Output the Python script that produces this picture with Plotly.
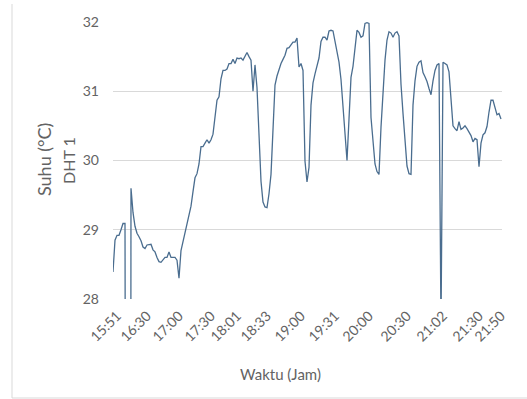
import plotly.graph_objects as go

# Temperature readings (DHT 1), one per sample; values below 28 are sensor read errors
suhu = [
    28.39, 28.85, 28.92, 28.92, 29.0, 29.09, 29.09, 0, 0, 29.6,
    29.25, 29.05, 28.95, 28.9, 28.84, 28.75, 28.73, 28.78, 28.78, 28.79,
    28.71, 28.68, 28.6, 28.54, 28.53, 28.56, 28.6, 28.6, 28.68, 28.6,
    28.6, 28.6, 28.56, 28.3, 28.7, 28.83, 28.95, 29.1, 29.22, 29.34,
    29.55, 29.75, 29.81, 29.95, 30.2, 30.2, 30.25, 30.3, 30.25, 30.3,
    30.38, 30.6, 30.87, 30.92, 31.18, 31.3, 31.3, 31.32, 31.4, 31.4,
    31.46, 31.4, 31.48, 31.47, 31.48, 31.45, 31.5, 31.56, 31.5, 31.45,
    31.0, 31.38, 31.05, 30.4, 29.7, 29.4, 29.33, 29.32, 29.52, 29.8,
    30.55, 31.09, 31.22, 31.32, 31.4, 31.46, 31.52, 31.62, 31.63, 31.67,
    31.71, 31.71, 31.77, 31.35, 31.4, 31.3, 29.99, 29.69, 29.9, 30.8,
    31.12, 31.25, 31.38, 31.48, 31.72, 31.78, 31.78, 31.74, 31.87, 31.88,
    31.87, 31.72, 31.6, 31.42, 31.17, 30.8, 30.38, 30.0, 30.6, 31.2,
    31.36, 31.65, 31.88, 31.85, 31.78, 31.8, 31.98, 31.99, 31.98, 30.62,
    30.3, 29.95, 29.84, 29.8, 30.48, 30.95, 31.45, 31.74, 31.86, 31.84,
    31.78, 31.84, 31.86, 31.8, 31.1, 30.68, 30.3, 29.92, 29.81, 29.8,
    30.8, 31.15, 31.36, 31.42, 31.44, 31.27, 31.21, 31.14, 31.04, 30.95,
    31.15, 31.3, 31.38, 31.4, 27.6, 31.42, 31.4, 31.38, 31.28, 30.88,
    30.5, 30.46, 30.43, 30.56, 30.45, 30.47, 30.5, 30.46, 30.41, 30.36,
    30.27, 30.32, 30.3, 29.91, 30.25, 30.37, 30.4, 30.49, 30.7, 30.87,
    30.87, 30.78, 30.66, 30.68, 30.6,
]
sample_idx = list(range(len(suhu)))

# Category-axis tick labels and the sample index where each appears
tick_labels = ["15:51", "16:30", "17:00", "17:30", "18:01", "18:33", "19:00",
               "19:31", "20:00", "20:30", "21:02", "21:30", "21:50"]
tick_samples = [2, 17, 33, 49, 62, 77, 94, 111, 128, 147, 165, 183, 194]

y_ticks = [28, 29, 30, 31, 32]

FONT = "Lato"
GRAY = "#636363"
GRID = "#d9d9d9"

W, H = 527, 399
ML, MR, MT, MB = 113, 25, 22, 100
PW, PH = W - ML - MR, H - MT - MB


def px_x(px):
    return (px - ML) / PW


def px_y(py):
    return (H - MB - py) / PH


fig = go.Figure()
fig.add_trace(go.Scatter(
    x=sample_idx, y=suhu, mode="lines",
    line=dict(color="#4a6d8f", width=1.3),
    hoverinfo="skip", showlegend=False,
))

fig.update_layout(
    width=W, height=H,
    margin=dict(l=ML, r=MR, t=MT, b=MB),
    paper_bgcolor="white", plot_bgcolor="white",
    font=dict(family=FONT, size=14, color=GRAY),
    xaxis=dict(
        range=[0, 194.5], tickmode="array", tickvals=tick_samples,
        ticktext=tick_labels, tickangle=-45, showgrid=False, zeroline=False,
        showline=False, ticks="", ticklabelstandoff=5,
        tickfont=dict(family=FONT, size=14, color=GRAY),
    ),
    yaxis=dict(
        range=[28, 32], tickvals=y_ticks, showgrid=True, gridcolor=GRID,
        gridwidth=1, zeroline=False, showline=False, ticks="",
        ticklabelstandoff=13, tickfont=dict(family=FONT, size=14, color=GRAY),
    ),
    shapes=[
        dict(type="line", xref="paper", yref="paper",
             x0=px_x(12), x1=px_x(12), y0=px_y(398), y1=px_y(4),
             line=dict(color=GRID, width=1)),
        dict(type="line", xref="paper", yref="paper",
             x0=px_x(12), x1=px_x(540), y0=px_y(398), y1=px_y(398),
             line=dict(color=GRID, width=1)),
    ],
    annotations=[
        dict(text="Suhu (°C)", xref="paper", yref="paper",
             x=px_x(44), y=px_y(160), xanchor="center", yanchor="middle",
             textangle=-90, showarrow=False,
             font=dict(family=FONT, size=18, color=GRAY)),
        dict(text="DHT 1", xref="paper", yref="paper",
             x=px_x(68), y=px_y(161), xanchor="center", yanchor="middle",
             textangle=-90, showarrow=False,
             font=dict(family=FONT, size=16, color=GRAY)),
        dict(text="Waktu (Jam)", xref="paper", yref="paper",
             x=px_x(280), y=px_y(374),
             xanchor="center", yanchor="middle", showarrow=False,
             font=dict(family=FONT, size=15, color=GRAY)),
    ],
)

fig.write_html("out.html", config={"displayModeBar": False},
               post_script="document.body.style.margin='0px';")
